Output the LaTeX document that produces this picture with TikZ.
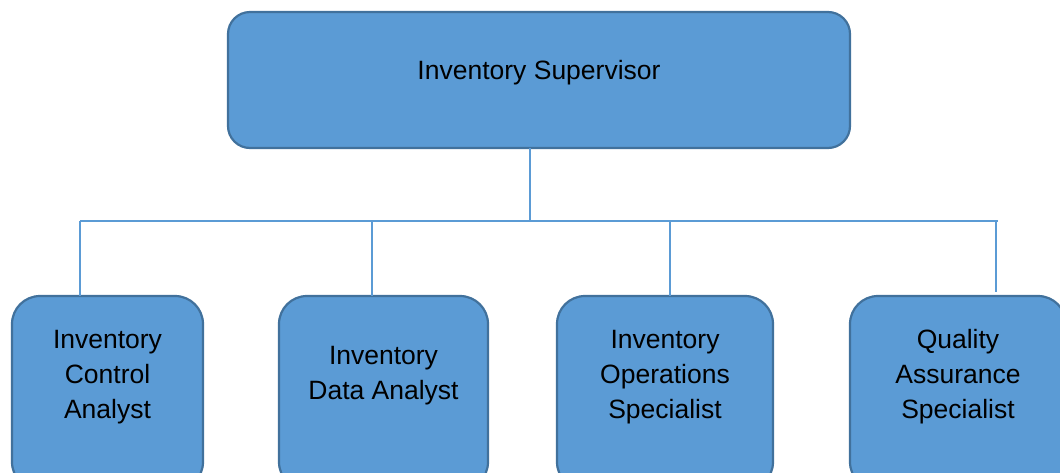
\documentclass[tikz,border=0pt]{standalone}
\usepackage{fontspec}
\setmainfont{Liberation Sans}
\definecolor{boxfill}{HTML}{5B9BD5}
\definecolor{boxedge}{HTML}{41719C}
\definecolor{linkblue}{HTML}{5B9BD5}
\tikzset{
  orgbox/.style={draw=boxedge, fill=boxfill, line width=2.2pt, rounded corners=#1},
  orgbox/.default=24pt,
  orgtext/.style={font=\fontsize{26.5}{35}\selectfont, align=center, inner sep=0pt, text=black},
  link/.style={draw=linkblue, line width=1.2pt}
}
\begin{document}
\begin{tikzpicture}[x=1pt, y=-1pt]
  \useasboundingbox (0,0) rectangle (1060,472);
  \clip (0,0) rectangle (1060,472);

  % top box
  \draw[orgbox=22pt] (228,12) rectangle (850,148);
  \node[orgtext] (sup) at (539,73) {Inventory Supervisor};
  \coordinate (supb) at (530,148);

  % bottom boxes
  \draw[orgbox=28pt] (12,296) rectangle (203,490);
  \draw[orgbox=28pt] (279,296) rectangle (488,490);
  \draw[orgbox=28pt] (557,296) rectangle (773,490);
  \draw[orgbox=28pt] (850,296) rectangle (1066,490);

  \node[orgtext] (ica) at (107.5,377) {Inventory\\Control\\Analyst};
  \node[orgtext] (ida) at (383.5,376) {Inventory\\Data Analyst};
  \node[orgtext] (ios) at (665,377) {Inventory\\Operations\\Specialist};
  \node[orgtext] (qas) at (958,377) {Quality\\Assurance\\Specialist};

  % connector bus
  \coordinate (bus) at (530,221);
  \coordinate (busl) at (80,221);
  \coordinate (busr) at (998,221);
  \coordinate (t1) at (80,296);
  \coordinate (t2) at (372,296);
  \coordinate (t3) at (670,296);
  \coordinate (t4) at (996,292);
  \coordinate (b2) at (372,221);
  \coordinate (b3) at (670,221);
  \coordinate (b4) at (996,221);

  \draw[link] (supb) -- (bus);
  \draw[link] (busl) -- (busr);
  \draw[link] (busl) -- (t1);
  \draw[link] (b2) -- (t2);
  \draw[link] (b3) -- (t3);
  \draw[link] (b4) -- (t4);
\end{tikzpicture}
\end{document}
